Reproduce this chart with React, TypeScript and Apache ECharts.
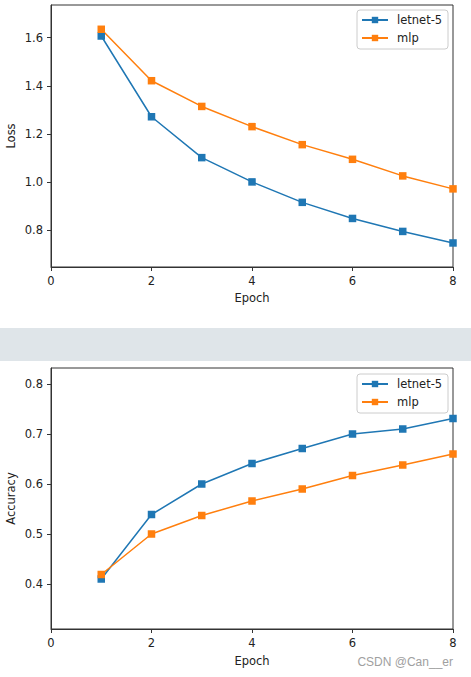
import React, { useEffect, useRef } from "react";
import * as echarts from "echarts";

const epochs = [1, 2, 3, 4, 5, 6, 7, 8];
const lossLenet = [1.607, 1.271, 1.101, 1.0, 0.915, 0.848, 0.794, 0.746];
const lossMlp = [1.635, 1.421, 1.314, 1.23, 1.155, 1.094, 1.025, 0.971];
const accLenet = [0.41, 0.539, 0.6, 0.641, 0.671, 0.7, 0.71, 0.731];
const accMlp = [0.419, 0.5, 0.537, 0.566, 0.59, 0.617, 0.638, 0.66];
const xTicks = [0, 2, 4, 6, 8];
const lossTicks = [0.8, 1.0, 1.2, 1.4, 1.6];
const accTicks = [0.4, 0.5, 0.6, 0.7, 0.8];
const seriesNames = ["letnet-5", "mlp"];
const colors = ["#1f77b4", "#ff7f0e"];

const FONT = "DejaVu Sans";
const FS = 11.5;
const AX = "#333";

function pairs(ys: number[]) {
  return epochs.map((x, i) => [x, ys[i]]);
}

function xAxisFor(gridIndex: number, gap: number) {
  return {
    type: "value",
    gridIndex,
    min: 0,
    max: 8,
    interval: 2,
    name: "Epoch",
    nameLocation: "middle",
    nameGap: gap,
    nameMoveOverlap: false,
    nameTextStyle: { fontFamily: FONT, fontSize: FS, color: "#222" },
    splitLine: { show: false },
    axisLine: { show: true, onZero: false, lineStyle: { color: AX, width: 1 } },
    axisTick: { show: true, inside: false, length: 4, lineStyle: { color: AX }, customValues: xTicks },
    axisLabel: { margin: 8, fontFamily: FONT, fontSize: FS, color: "#222", customValues: xTicks },
  };
}

function yAxisFor(gridIndex: number, name: string, min: number, max: number, ticks: number[]) {
  return {
    type: "value",
    gridIndex,
    min,
    max,
    name,
    nameLocation: "middle",
    nameGap: 34,
    nameMoveOverlap: false,
    nameTextStyle: { fontFamily: FONT, fontSize: FS, color: "#222" },
    splitLine: { show: false },
    axisLine: { show: true, onZero: false, lineStyle: { color: AX, width: 1 } },
    axisTick: { show: true, inside: false, length: 4, lineStyle: { color: AX }, customValues: ticks },
    axisLabel: {
      margin: 8,
      fontFamily: FONT,
      fontSize: FS,
      color: "#222",
      customValues: ticks,
      formatter: (v: number) => v.toFixed(1),
    },
  };
}

function lineSeries(name: string, data: number[], idx: number, color: string) {
  return {
    type: "line",
    name,
    xAxisIndex: idx,
    yAxisIndex: idx,
    data: pairs(data),
    symbol: "rect",
    symbolSize: 7.5,
    showSymbol: true,
    clip: true,
    lineStyle: { color, width: 1.5 },
    itemStyle: { color },
    emphasis: { disabled: true },
  };
}

function legendAt(left: number, top: number) {
  return {
    data: seriesNames,
    left,
    top,
    orient: "vertical",
    itemWidth: 26,
    itemHeight: 8,
    itemGap: 4,
    padding: [3, 4, 4, 4],
    borderColor: "#cccccc",
    borderWidth: 1,
    borderRadius: 3,
    backgroundColor: "#ffffff",
    selectedMode: false,
    textStyle: { fontFamily: FONT, fontSize: FS, color: "#222", lineHeight: 14, padding: [0, 0, 0, 4], width: 47 },
  };
}

export default function App() {
  const ref = useRef<HTMLDivElement>(null);
  useEffect(() => {
    if (!ref.current) return;
    const chart = echarts.init(ref.current, undefined, { renderer: "svg" });
    const gridBase = {
      left: 51,
      width: 402,
      show: true,
      borderColor: AX,
      borderWidth: 1,
      backgroundColor: "#fff",
      containLabel: false,
      outerBoundsMode: "none",
    };
    chart.setOption({
      animation: false,
      backgroundColor: "#ffffff",
      color: colors,
      grid: [
        { ...gridBase, top: 5, height: 262 },
        { ...gridBase, top: 368, height: 261 },
      ],
      legend: [legendAt(357, 10), legendAt(357, 374)],
      xAxis: [xAxisFor(0, 25), xAxisFor(1, 26)],
      yAxis: [
        yAxisFor(0, "Loss", 0.646, 1.736, lossTicks),
        yAxisFor(1, "Accuracy", 0.31, 0.832, accTicks),
      ],
      series: [
        lineSeries(seriesNames[0], lossLenet, 0, colors[0]),
        lineSeries(seriesNames[1], lossMlp, 0, colors[1]),
        lineSeries(seriesNames[0], accLenet, 1, colors[0]),
        lineSeries(seriesNames[1], accMlp, 1, colors[1]),
      ],
      graphic: [
        { type: "rect", shape: { x: 0, y: 328, width: 471, height: 33 }, style: { fill: "#dfe5e9" }, silent: true },
        {
          type: "text",
          x: 453,
          y: 662,
          style: {
            text: "CSDN @Can__er",
            fontFamily: "Liberation Sans",
            fontSize: 12,
            fill: "#a0a0a0",
            textAlign: "right",
            textVerticalAlign: "middle",
          },
          silent: true,
        },
      ],
    });
    return () => chart.dispose();
  }, []);
  return <div ref={ref} style={{ position: "absolute", left: 0, top: 0, width: 471, height: 677 }} />;
}
